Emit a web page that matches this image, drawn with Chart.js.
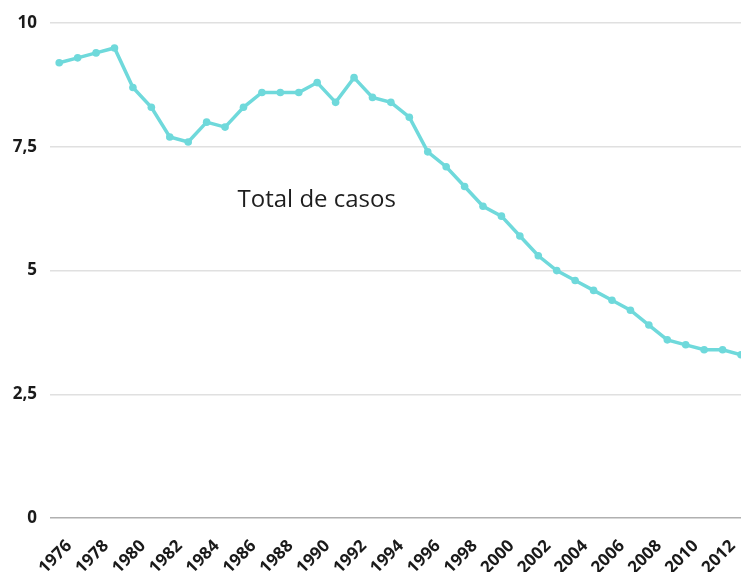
<!DOCTYPE html>
<html>
<head>
<meta charset="utf-8">
<script src="https://cdn.jsdelivr.net/npm/chart.js@4"></script>
<style>
  html, body { margin: 0; padding: 0; background: #fff; }
  #wrap { width: 741px; height: 572px; }
</style>
</head>
<body>
<div id="wrap"><canvas id="casosChart"></canvas></div>
<script>
// data
const years = [1976, 1977, 1978, 1979, 1980, 1981, 1982, 1983, 1984, 1985,
    1986, 1987, 1988, 1989, 1990, 1991, 1992, 1993, 1994, 1995,
    1996, 1997, 1998, 1999, 2000, 2001, 2002, 2003, 2004, 2005,
    2006, 2007, 2008, 2009, 2010, 2011, 2012, 2013];
const totalCasos = [9.2, 9.3, 9.4, 9.5, 8.7, 8.3, 7.7, 7.6, 8.0, 7.9,
    8.3, 8.6, 8.6, 8.6, 8.8, 8.4, 8.9, 8.5, 8.4, 8.1,
    7.4, 7.1, 6.7, 6.3, 6.1, 5.7, 5.3, 5.0, 4.8, 4.6,
    4.4, 4.2, 3.9, 3.6, 3.5, 3.4, 3.4, 3.3];
const xTicks = [1976, 1978, 1980, 1982, 1984, 1986, 1988, 1990, 1992, 1994,
    1996, 1998, 2000, 2002, 2004, 2006, 2008, 2010, 2012];
const yTicks = [0, 2.5, 5, 7.5, 10];
const seriesName = 'Total de casos';

const lineColor = '#6fd9db';

// the series name sits inside the plot, not as a legend
const seriesLabel = {
    id: 'seriesLabel',
    afterDatasetsDraw(chart) {
        const area = chart.chartArea;
        const ctx = chart.ctx;
        ctx.save();
        ctx.font = '24px "Open Sans"';
        ctx.fillStyle = '#1e1e1e';
        ctx.textAlign = 'center';
        ctx.textBaseline = 'middle';
        ctx.fillText(seriesName, area.left + area.width * 0.386, area.top + area.height * 0.357);
        ctx.restore();
    }
};

const ctx = document.getElementById('casosChart').getContext('2d');
const chart = new Chart(ctx, {
    type: 'line',
    data: {
        datasets: [{
            label: seriesName,
            data: years.map((y, i) => ({ x: y, y: totalCasos[i] })),
            borderColor: lineColor,
            backgroundColor: lineColor,
            borderWidth: 3.5,
            pointRadius: 3.8,
            pointBorderWidth: 0,
            tension: 0,
            clip: false
        }]
    },
    options: {
        responsive: true,
        maintainAspectRatio: false,
        animation: false,
        // the last point runs off the right edge in the original, so no auto padding
        layout: { autoPadding: false, padding: { top: 23, right: 0, left: 0, bottom: 0 } },
        plugins: {
            legend: { display: false },
            tooltip: { enabled: false }
        },
        scales: {
            x: {
                type: 'linear',
                min: 1975.5,
                max: 2013,
                afterBuildTicks: scale => {
                    scale.ticks = xTicks.map(v => ({ value: v }));
                },
                afterFit: scale => {
                    scale.height = 54;
                    scale.paddingLeft = 0;
                    scale.paddingRight = 0;
                },
                grid: { display: false },
                border: { display: false },
                ticks: {
                    minRotation: 45,
                    maxRotation: 45,
                    autoSkip: false,
                    padding: 10,
                    labelOffset: 10,
                    color: '#1a1a1a',
                    font: { family: '"Open Sans"', size: 17, weight: 'bold' },
                    callback: v => String(v)
                }
            },
            y: {
                min: 0,
                max: 10,
                afterBuildTicks: scale => {
                    scale.ticks = yTicks.map(v => ({ value: v }));
                },
                afterFit: scale => { scale.width = 50; },
                grid: {
                    drawTicks: false,
                    lineWidth: 1.5,
                    color: c => c.tick && c.tick.value === 0 ? '#b0b0b0' : '#e0e0e0'
                },
                border: { display: false },
                ticks: {
                    padding: 13,
                    color: '#1a1a1a',
                    font: { family: '"Open Sans"', size: 17, weight: 'bold' },
                    callback: v => String(v).replace('.', ',')
                }
            }
        }
    },
    plugins: [seriesLabel]
});
</script>
</body>
</html>
